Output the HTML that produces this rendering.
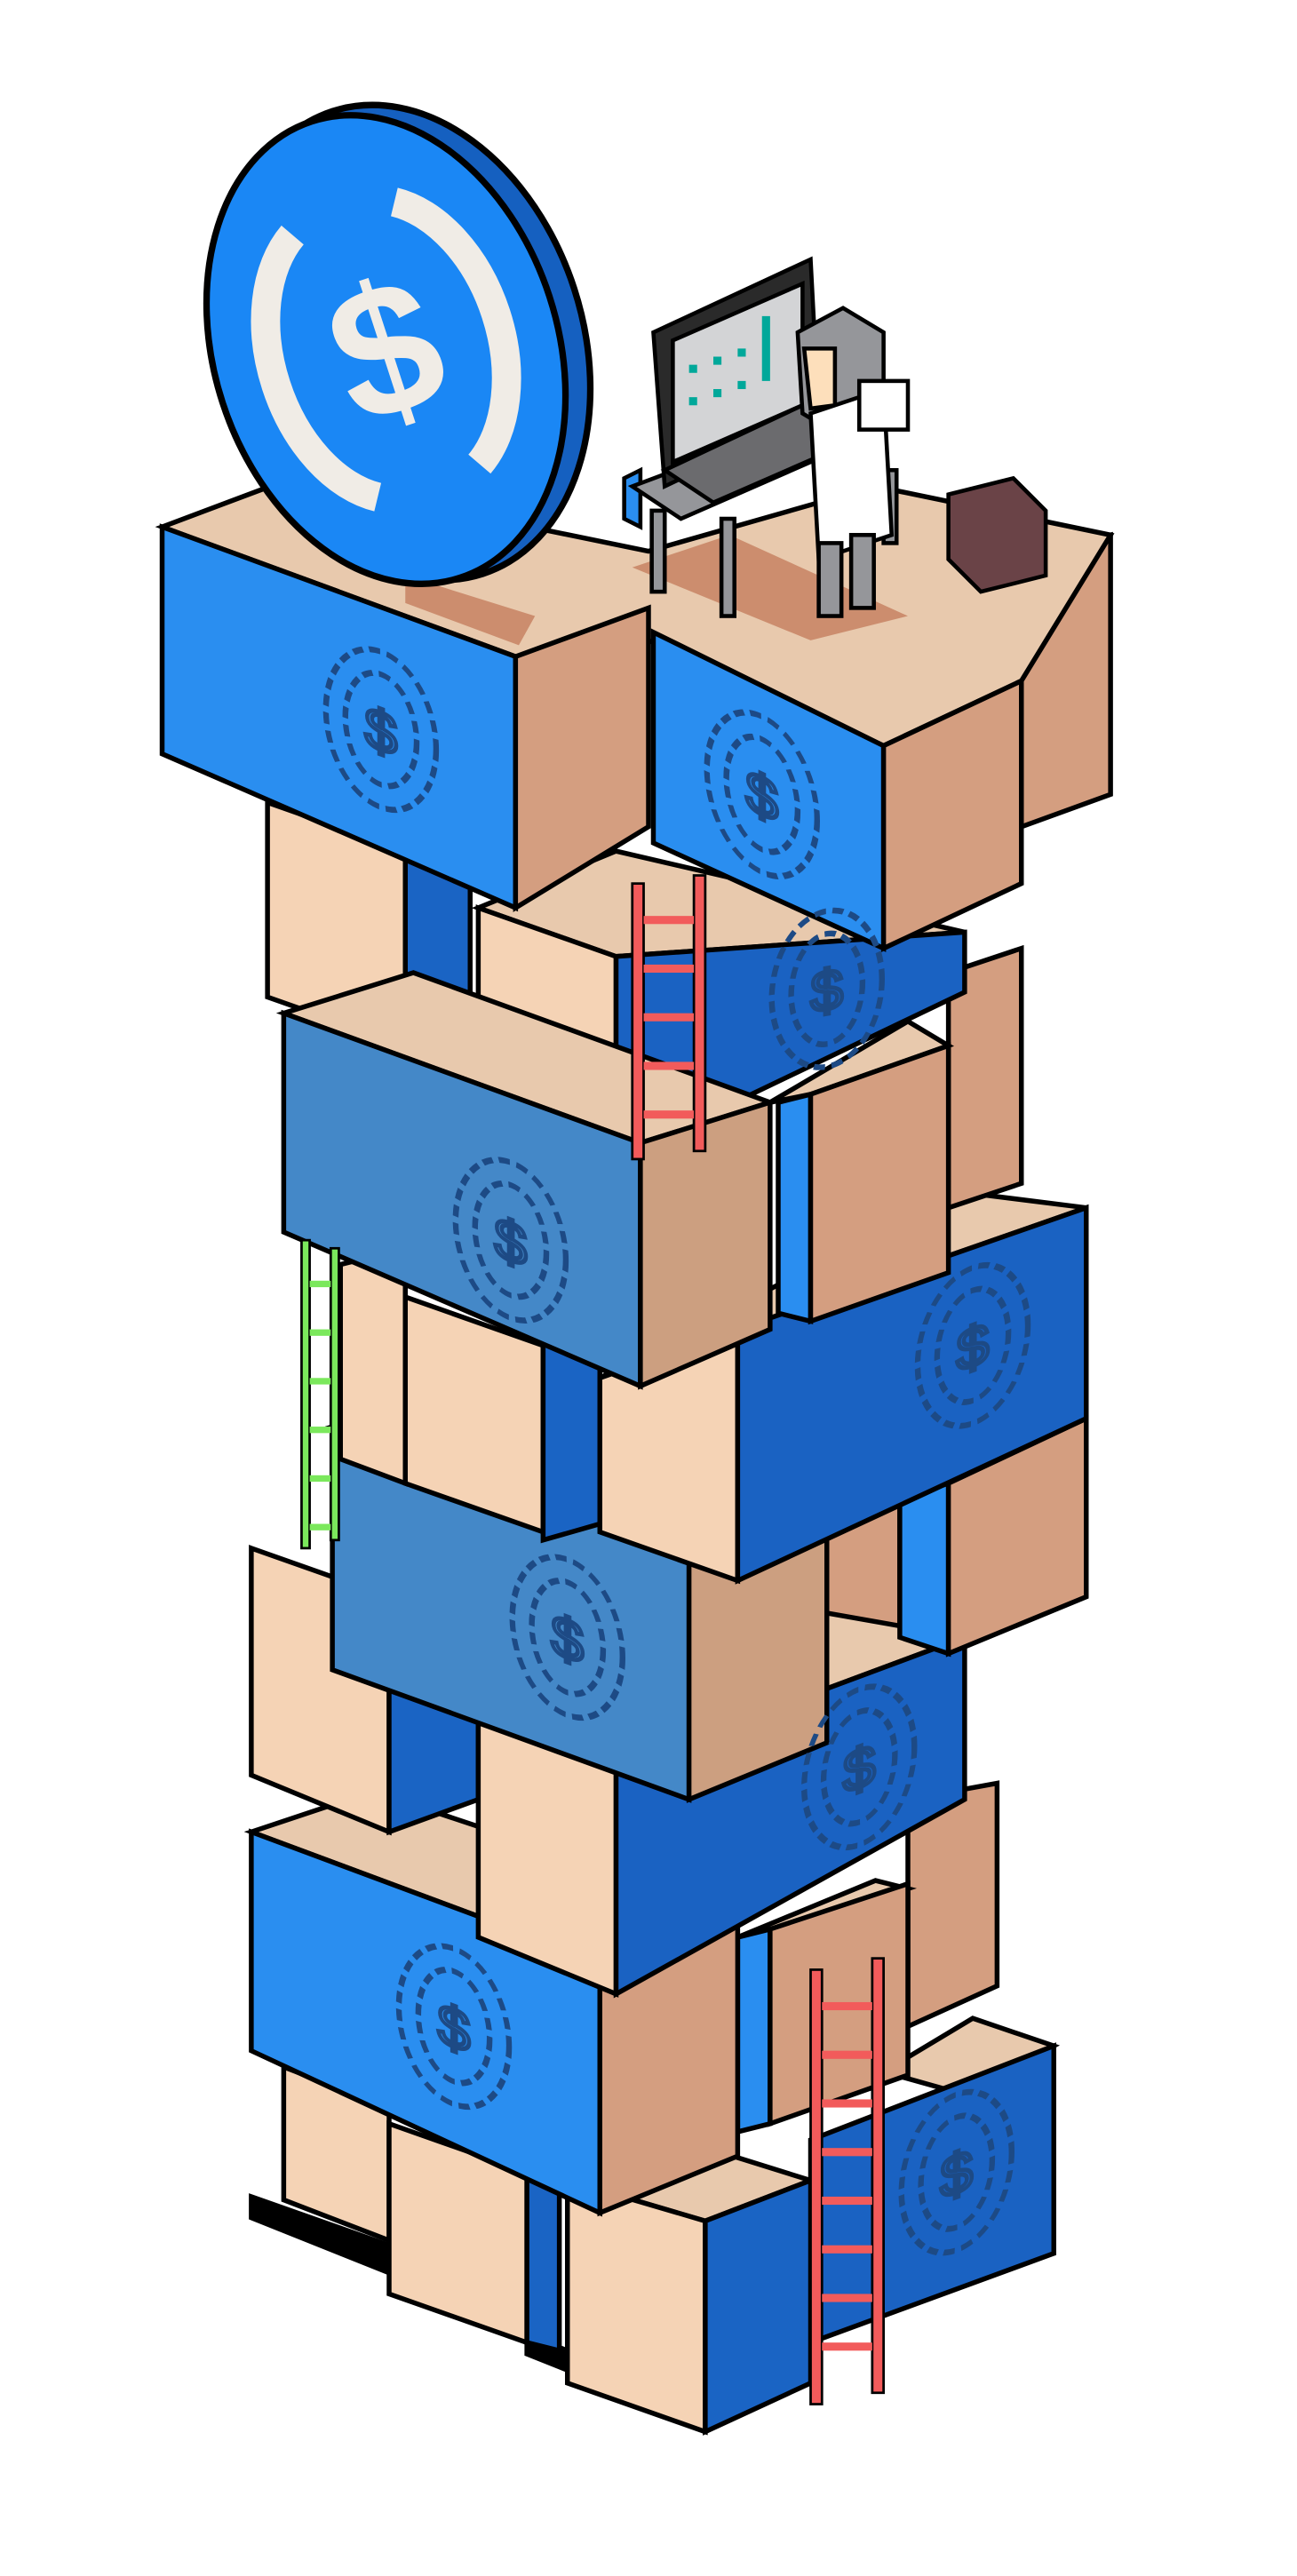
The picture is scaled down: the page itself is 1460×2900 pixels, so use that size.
<!DOCTYPE html>
<html><head><meta charset="utf-8"><style>
html,body{margin:0;padding:0;background:#fff;}
svg{display:block;}
</style></head><body>
<svg width="1460" height="2900" viewBox="0 0 800 1589" preserveAspectRatio="none" xmlns="http://www.w3.org/2000/svg">
<defs>
<g id="emb">
<ellipse cx="0" cy="0" rx="34" ry="48" fill="none" stroke="#1d4a85" stroke-width="3.5" stroke-dasharray="7 4"/>
<ellipse cx="0" cy="0" rx="22" ry="34" fill="none" stroke="#1d4a85" stroke-width="3.5" stroke-dasharray="7 4"/>
<text x="0" y="13" font-family="Liberation Mono, monospace" font-size="36" fill="none" stroke="#1d4a85" stroke-width="2.5" text-anchor="middle">$</text>
</g>
</defs>
<g stroke="#000" stroke-width="3" stroke-linejoin="miter">
<polygon points="155,1355 240,1385 240,1402 155,1368" fill="#000"/>
<polygon points="325,1440 350,1450 350,1462 325,1452" fill="#000"/>
<polygon points="175,1275 240,1300 240,1382 175,1357" fill="#f5d3b5"/>
<polygon points="240,1310 325,1340 325,1445 240,1415" fill="#f5d3b5"/>
<polygon points="325,1340 345,1332 345,1450 325,1445" fill="#1a64c4"/>
<polygon points="545,1278 600,1245 650,1262 595,1292" fill="#e8c9ad"/>
<polygon points="500,1320 650,1262 650,1390 500,1445" fill="#1a62c2"/>
<polygon points="350,1345 420,1320 500,1345 435,1370" fill="#e8c9ad"/>
<polygon points="350,1345 435,1370 435,1500 350,1470" fill="#f5d3b5"/>
<polygon points="435,1370 500,1345 500,1470 435,1500" fill="#1a64c4"/>
<!-- layer 2 -->
<polygon points="560,1110 615,1100 615,1225 560,1250" fill="#d49e80"/>
<polygon points="455,1195 540,1160 560,1165 475,1192" fill="#e8c9ad"/>
<polygon points="455,1195 475,1190 475,1310 455,1315" fill="#2a8ef0"/>
<polygon points="475,1190 560,1162 560,1280 475,1310" fill="#d49e80"/>
<polygon points="155,1130 230,1105 455,1180 370,1210" fill="#e8c9ad"/>
<polygon points="155,1130 370,1210 370,1365 155,1265" fill="#2a8ef0"/>
<polygon points="370,1210 455,1180 455,1330 370,1365" fill="#d49e80"/>
<!-- layer 3 -->
<polygon points="510,935 555,920 555,1020 510,1035" fill="#d49e80"/>
<polygon points="155,955 240,985 240,1130 155,1095" fill="#f5d3b5"/>
<polygon points="240,985 295,965 295,1110 240,1130" fill="#1a64c4"/>
<polygon points="295,1060 510,995 595,1010 380,1090" fill="#e8c9ad"/>
<polygon points="295,1060 380,1090 380,1230 295,1195" fill="#f5d3b5"/>
<polygon points="380,1090 595,1010 595,1110 380,1230" fill="#1a62c2"/>
<polygon points="205,880 250,865 510,925 425,960" fill="#e8c9ad"/>
<polygon points="205,880 425,960 425,1110 205,1030" fill="#4488c8"/>
<polygon points="425,960 510,925 510,1075 425,1110" fill="#cc9f80"/>
<!-- layer 4 -->
<polygon points="555,925 585,915 585,1020 555,1010" fill="#2a8ef0"/>
<polygon points="585,915 670,875 670,985 585,1020" fill="#d49e80"/>
<polygon points="210,780 250,770 250,915 210,900" fill="#f5d3b5"/>
<polygon points="250,800 335,830 335,945 250,915" fill="#f5d3b5"/>
<polygon points="335,830 370,818 370,940 335,950" fill="#1a64c4"/>
<polygon points="370,850 590,735 670,745 455,820" fill="#e8c9ad"/>
<polygon points="370,850 455,820 455,975 370,945" fill="#f5d3b5"/>
<polygon points="455,820 670,745 670,875 455,975" fill="#1a62c2"/>
<!-- layer 5 -->
<polygon points="585,600 630,585 630,730 585,745" fill="#d49e80"/>
<polygon points="165,495 250,525 250,645 165,615" fill="#f5d3b5"/>
<polygon points="250,530 290,515 290,640 250,650" fill="#1a64c4"/>
<polygon points="295,560 380,525 595,575 380,590" fill="#e8c9ad"/>
<polygon points="295,560 380,590 380,710 295,680" fill="#f5d3b5"/>
<polygon points="380,590 595,575 595,612 380,715" fill="#1a62c2"/>
<polygon points="475,680 560,630 585,645 500,675" fill="#e8c9ad"/>
<polygon points="480,680 500,675 500,815 480,810" fill="#2a8ef0"/>
<polygon points="500,675 585,645 585,785 500,815" fill="#d49e80"/>
<polygon points="175,625 255,600 475,680 395,705" fill="#e8c9ad"/>
<polygon points="175,625 395,705 395,855 175,760" fill="#4488c8"/>
<polygon points="395,705 475,680 475,820 395,855" fill="#cc9f80"/>
<!-- top layer -->
<polygon points="600,350 685,330 685,490 630,510 630,420" fill="#d49e80"/>
<polygon points="100,325 180,295 400,340 540,300 685,330 630,420 545,460 400,395 318,405" fill="#e8c9ad"/>
<polygon points="100,325 318,405 318,560 100,465" fill="#2a8ef0"/>
<polygon points="318,405 400,375 400,510 318,560" fill="#d49e80"/>
<polygon points="403,390 545,460 545,585 403,520" fill="#2a8ef0"/>
<polygon points="545,460 630,420 630,545 545,585" fill="#d49e80"/>
</g>
<polygon points="250,355 330,380 320,398 250,372" fill="#cc8d6e"/>
<polygon points="390,350 450,330 560,380 500,395" fill="#cc8d6e"/>
<use href="#emb" transform="translate(235,450) skewY(20)"/>
<use href="#emb" transform="translate(470,490) skewY(25)"/>
<use href="#emb" transform="translate(315,765) skewY(20)"/>
<use href="#emb" transform="translate(600,830) skewY(-20)"/>
<use href="#emb" transform="translate(350,1010) skewY(20)"/>
<use href="#emb" transform="translate(530,1090) skewY(-20)"/>
<use href="#emb" transform="translate(280,1250) skewY(20)"/>
<use href="#emb" transform="translate(590,1340) skewY(-20)"/>
<use href="#emb" transform="translate(510,610) skewY(-10)"/>
<g stroke="#000" stroke-width="1.5" fill="#f25b5b">
<rect x="390" y="545" width="7" height="170"/><rect x="428" y="540" width="7" height="170"/>
<rect x="500" y="1215" width="7" height="268"/><rect x="538" y="1208" width="7" height="268"/>
</g>
<g fill="#f25b5b">
<rect x="397" y="565" width="31" height="5"/><rect x="397" y="595" width="31" height="5"/><rect x="397" y="625" width="31" height="5"/><rect x="397" y="655" width="31" height="5"/><rect x="397" y="685" width="31" height="5"/>
<rect x="507" y="1235" width="31" height="5"/><rect x="507" y="1265" width="31" height="5"/><rect x="507" y="1295" width="31" height="5"/><rect x="507" y="1325" width="31" height="5"/><rect x="507" y="1355" width="31" height="5"/><rect x="507" y="1385" width="31" height="5"/><rect x="507" y="1415" width="31" height="5"/><rect x="507" y="1445" width="31" height="5"/>
</g>
<g fill="#7be85c" stroke="#000" stroke-width="1.5">
<rect x="186" y="765" width="5" height="190"/><rect x="204" y="770" width="5" height="180"/>
</g>
<g fill="#7be85c"><rect x="191" y="790" width="13" height="4"/><rect x="191" y="820" width="13" height="4"/><rect x="191" y="850" width="13" height="4"/><rect x="191" y="880" width="13" height="4"/><rect x="191" y="910" width="13" height="4"/><rect x="191" y="940" width="13" height="4"/></g>
<!-- coin -->
<g transform="rotate(-18 240 215)">
<ellipse cx="252" cy="215" rx="108" ry="150" fill="#1560c0" stroke="#000" stroke-width="4"/>
<ellipse cx="238" cy="215" rx="106" ry="148" fill="#1a87f5" stroke="#000" stroke-width="4"/>
<path d="M205 130 A 62 92 0 0 0 205 300" fill="none" stroke="#f0ece6" stroke-width="18"/>
<path d="M271 130 A 62 92 0 0 1 271 300" fill="none" stroke="#f0ece6" stroke-width="18"/>
<text x="238" y="255" font-family="Liberation Sans, sans-serif" font-weight="bold" font-size="115" fill="#f0ece6" text-anchor="middle">$</text>
</g>
<g stroke="#000" stroke-width="2.5">
<polygon points="385,295 395,290 395,325 385,320" fill="#2a8ef0"/>
<polygon points="390,300 470,270 500,285 420,320" fill="#95969a"/>
<rect x="402" y="315" width="8" height="50" fill="#95969a"/>
<rect x="445" y="320" width="8" height="60" fill="#95969a"/>
<rect x="545" y="290" width="8" height="45" fill="#95969a"/>
<polygon points="403,205 500,160 505,255 410,300" fill="#2a2a2a"/>
<polygon points="415,210 495,175 495,250 415,285" fill="#d3d4d6"/>
<polygon points="410,290 495,250 520,275 440,310" fill="#6b6b6e"/>
<polygon points="492,205 520,190 545,205 545,260 520,270 495,255" fill="#95969a"/>
<polygon points="496,215 515,215 515,250 500,252" fill="#fddfbb"/>
<polygon points="500,255 545,240 550,330 505,345" fill="#ffffff"/>
<rect x="505" y="335" width="14" height="45" fill="#95969a"/>
<rect x="525" y="330" width="14" height="45" fill="#95969a"/>
<rect x="530" y="235" width="30" height="30" fill="#fff"/>
<polygon points="585,305 625,295 645,315 645,355 605,365 585,345" fill="#6a4347"/>
</g>
<g fill="#00a89a"><rect x="425" y="225" width="5" height="5"/><rect x="440" y="220" width="5" height="5"/><rect x="425" y="245" width="5" height="5"/><rect x="440" y="240" width="5" height="5"/><rect x="455" y="215" width="5" height="5"/><rect x="455" y="235" width="5" height="5"/><rect x="470" y="195" width="5" height="40"/></g>
</svg>
</body></html>
